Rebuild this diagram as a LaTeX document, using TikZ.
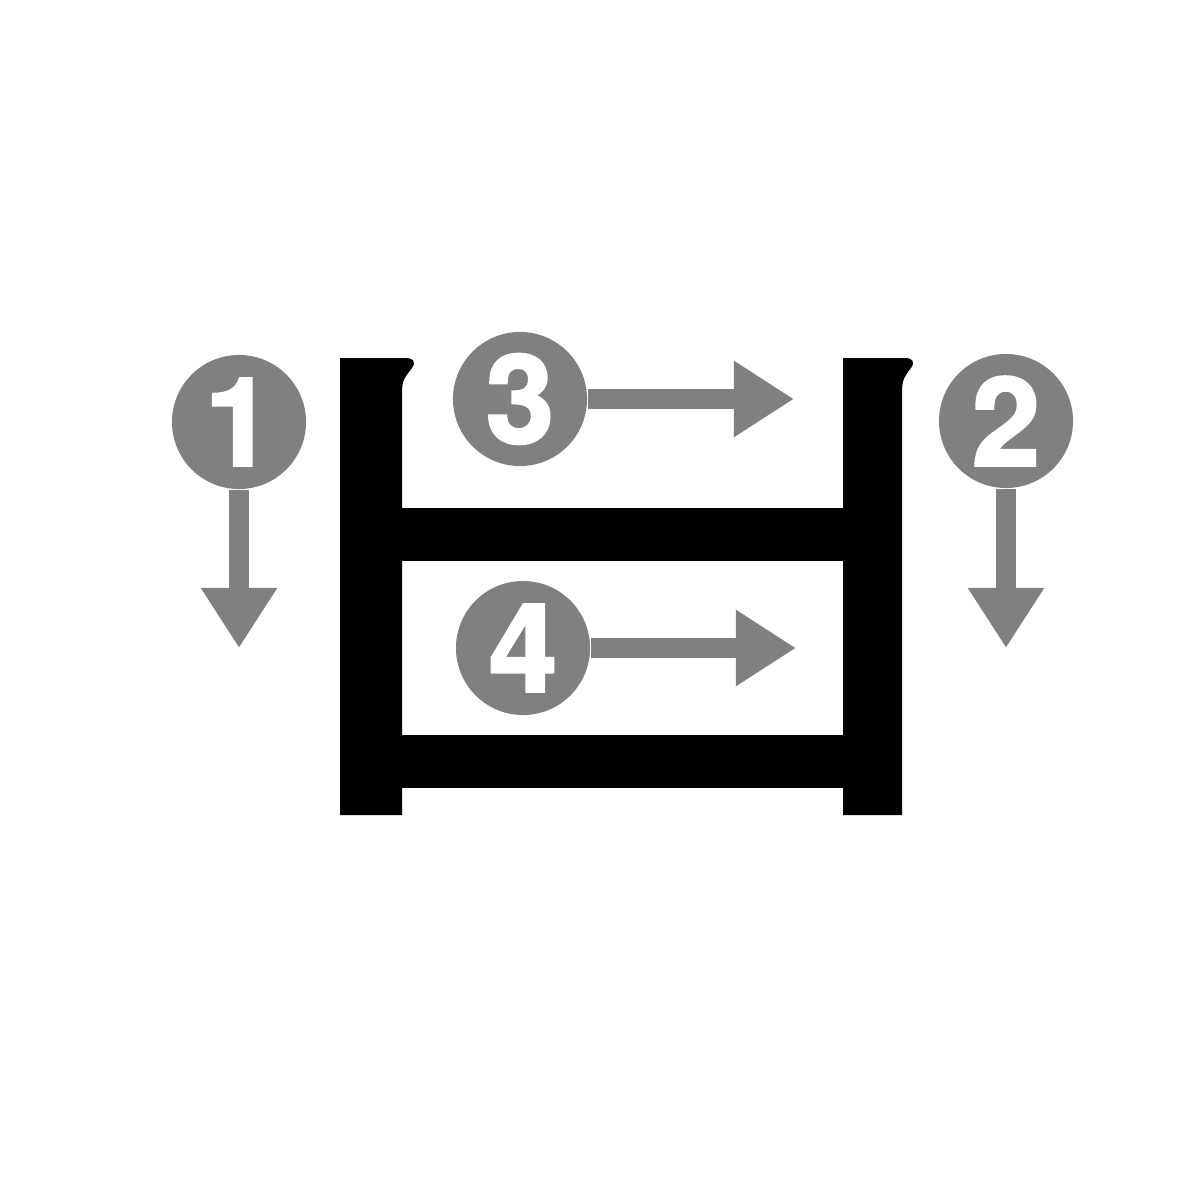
\documentclass[tikz,border=0pt]{standalone}
\usepackage{fontspec}
\newfontfamily\badgefont{TeX Gyre Heros}[BoldFeatures={FakeBold=2}]
\usetikzlibrary{arrows.meta}
\definecolor{markgray}{RGB}{128,128,128}
\tikzset{
  badge/.style={circle, fill=markgray, minimum size=1.34cm, inner sep=0pt,
    text=white, font=\badgefont\fontsize{35}{35}\selectfont\bfseries},
  flow/.style={draw=markgray, line width=0.2cm,
    -{Triangle[width=0.72cm,length=0.6cm]}},
  frame/.style={fill=black}
}
\begin{document}
\begin{tikzpicture}[x=0.01cm,y=-0.01cm]
\useasboundingbox (0,0) rectangle (1192,1200);
% posts
\fill[frame] (340,358) -- (405,358) .. controls (414,358) and (416,362) .. (412,368)
  .. controls (406,376) and (402,379) .. (402,392) -- (402,815) -- (340,815) -- cycle;
\fill[frame] (843,358) -- (905,358) .. controls (913,358) and (915,362) .. (911,368)
  .. controls (905,376) and (902,379) .. (902,392) -- (902,815) -- (843,815) -- cycle;
% rails
\fill[frame] (400,508) rectangle (845,561);
\fill[frame] (400,735) rectangle (845,788);
% badges
\node[badge] (b1) at (239,422) {1};
\node[badge] (b2) at (1006,421) {2};
\node[badge] (b3) at (520,399) {3};
\node[badge] (b4) at (523,648) {4};
\coordinate (e1) at (239,648);
\coordinate (e2) at (1006,648);
\coordinate (e3) at (794,399);
\coordinate (e4) at (796,648);
\draw[flow] (b1.south) -- (e1);
\draw[flow] (b2.south) -- (e2);
\draw[flow] (b3.east) -- (e3);
\draw[flow] (b4.east) -- (e4);
\end{tikzpicture}
\end{document}
